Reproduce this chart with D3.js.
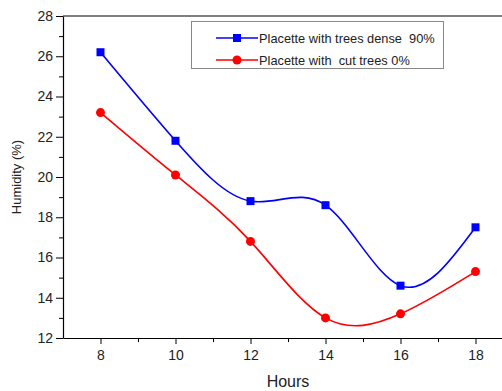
<!DOCTYPE html>
<html>
<head>
<meta charset="utf-8">
<script src="https://cdn.jsdelivr.net/npm/d3@7"></script>
<style>
  body { margin: 0; background: #fff; }
  svg { display: block; font-family: Arial, "Liberation Sans", sans-serif; }
</style>
</head>
<body>
<script>
// data
const hours = [8, 10, 12, 14, 16, 18];
const dense = [26.2, 21.8, 18.8, 18.6, 14.6, 17.5];
const cut = [23.2, 20.1, 16.8, 13.0, 13.2, 15.3];
const seriesNames = ['Placette with trees dense  90%', 'Placette with  cut trees 0%'];
const xTicks = [8, 10, 12, 14, 16, 18];
const yTicks = [12, 14, 16, 18, 20, 22, 24, 26, 28];

const width = 502, height = 391;
const plotLeft = 63, plotTop = 16, plotBottom = 338;

const svg = d3.select('body').append('svg')
  .attr('width', width)
  .attr('height', height);

const x = d3.scaleLinear().domain([7, 19]).range([plotLeft, plotLeft + 450]);
const y = d3.scaleLinear().domain([12, 28]).range([plotBottom, plotTop]);

// frame top line
svg.append('line')
  .attr('x1', plotLeft).attr('x2', width)
  .attr('y1', plotTop).attr('y2', plotTop)
  .attr('stroke', '#000').attr('stroke-width', 1.2);

// minor ticks
const yMinor = d3.range(13, 28, 2);
svg.append('g')
  .attr('transform', 'translate(' + plotLeft + ',0)')
  .call(d3.axisLeft(y).tickValues(yMinor).tickSize(4).tickFormat(''))
  .call(g => g.select('.domain').remove());
const xMinor = d3.range(9, 19, 2);
svg.append('g')
  .attr('transform', 'translate(0,' + plotBottom + ')')
  .call(d3.axisBottom(x).tickValues(xMinor).tickSize(4).tickFormat(''))
  .call(g => g.select('.domain').remove());

// major axes
const yAxis = svg.append('g')
  .attr('transform', 'translate(' + plotLeft + ',0)')
  .call(d3.axisLeft(y).tickValues(yTicks).tickSize(7).tickPadding(3).tickSizeOuter(0));
yAxis.selectAll('text').attr('font-size', 14).attr('fill', '#222');

const xAxis = svg.append('g')
  .attr('transform', 'translate(0,' + plotBottom + ')')
  .call(d3.axisBottom(x).tickValues(xTicks).tickSize(6).tickPadding(6).tickSizeOuter(0));
xAxis.selectAll('text').attr('font-size', 14).attr('fill', '#222');
svg.selectAll('.domain').attr('stroke-width', 1.2);

// axis titles
svg.append('text')
  .attr('transform', 'translate(21,' + ((plotTop + plotBottom) / 2) + ') rotate(-90)')
  .attr('text-anchor', 'middle')
  .attr('font-size', 13)
  .attr('fill', '#222')
  .text('Humidity (%)');
svg.append('text')
  .attr('x', x(13)).attr('y', 387)
  .attr('text-anchor', 'middle')
  .attr('font-size', 16)
  .attr('fill', '#222')
  .text('Hours');

const line = d3.line()
  .x(d => x(d[0]))
  .y(d => y(d[1]))
  .curve(d3.curveNatural);

const denseData = hours.map((h, i) => [h, dense[i]]);
const cutData = hours.map((h, i) => [h, cut[i]]);

svg.append('path').datum(denseData)
  .attr('d', line).attr('fill', 'none')
  .attr('stroke', '#0000ff').attr('stroke-width', 1.6);
svg.append('path').datum(cutData)
  .attr('d', line).attr('fill', 'none')
  .attr('stroke', '#ff0000').attr('stroke-width', 1.6);

svg.append('g').selectAll('rect').data(denseData).enter()
  .append('rect')
  .attr('x', d => x(d[0]) - 4).attr('y', d => y(d[1]) - 4)
  .attr('width', 8).attr('height', 8)
  .attr('fill', '#0000ff');
svg.append('g').selectAll('circle').data(cutData).enter()
  .append('circle')
  .attr('cx', d => x(d[0])).attr('cy', d => y(d[1]))
  .attr('r', 4.5)
  .attr('fill', '#ff0000');

// legend
const legend = svg.append('g');
legend.append('rect')
  .attr('x', 191.5).attr('y', 21.5)
  .attr('width', 252).attr('height', 47)
  .attr('fill', '#fff').attr('stroke', '#888').attr('stroke-width', 1);
const colors = ['#0000ff', '#ff0000'];
seriesNames.forEach(function(name, i) {
  const ly = 38 + i * 22;
  legend.append('line')
    .attr('x1', 216).attr('x2', 258).attr('y1', ly).attr('y2', ly)
    .attr('stroke', colors[i]).attr('stroke-width', 1.6);
  if (i === 0) {
    legend.append('rect').attr('x', 233).attr('y', ly - 4).attr('width', 8).attr('height', 8).attr('fill', colors[i]);
  } else {
    legend.append('circle').attr('cx', 237).attr('cy', ly).attr('r', 4.5).attr('fill', colors[i]);
  }
  legend.append('text')
    .attr('x', 259).attr('y', ly + 5)
    .attr('font-size', 12.8)
    .attr('fill', '#222')
    .style('white-space', 'pre')
    .text(name);
});
</script>
</body>
</html>
